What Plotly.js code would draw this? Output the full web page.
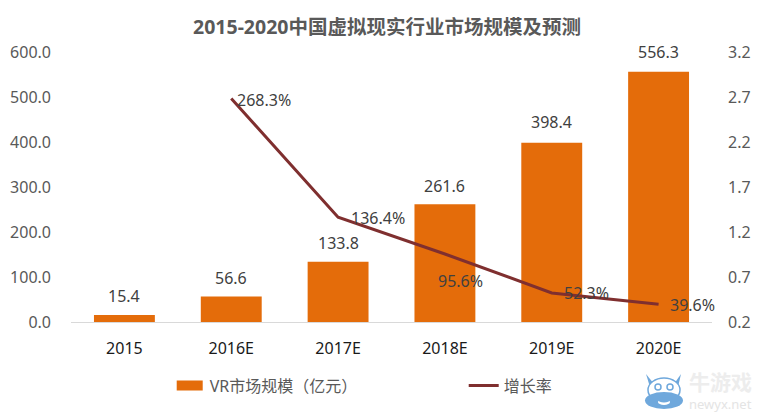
<!DOCTYPE html>
<html><head><meta charset="utf-8">
<script src="https://cdn.plot.ly/plotly-3.0.1.min.js"></script>
<style>html,body{margin:0;padding:0;background:#fff}#c{width:768px;height:416px}</style>
</head><body><div id="c"></div>
<script>
const categories = ['2015','2016E','2017E','2018E','2019E','2020E'];
const marketSize = [15.4,56.6,133.8,261.6,398.4,556.3];
const growthCats = ['2016E','2017E','2018E','2019E','2020E'];
const growthRate = [2.683,1.364,0.956,0.523,0.396];
const growthLabels = ['268.3%','136.4%','95.6%','52.3%','39.6%'];
const leftTicks = [0,100,200,300,400,500,600];
const rightTicks = [0.2,0.7,1.2,1.7,2.2,2.7,3.2];
const labelDx = [33,40,16,35,34];
const labelDy = [-1,-1,-27,0,-1];
const barLabelDy = [19,19,19,18,21,20];
const FONT = '"Noto Sans","Noto Sans CJK SC",sans-serif';
const px = x => (x-71)/641, py = y => (322-y)/270;
const traces = [
 {type:'bar',name:'VR市场规模（亿元）',x:categories,y:marketSize,marker:{color:'#E46C0A'}},
 {type:'scatter',mode:'lines',name:'增长率',x:growthCats,y:growthRate,yaxis:'y2',
  line:{color:'#7F2F2F',width:3}}
];
const barNotes = marketSize.map((v,i)=>({text:v.toFixed(1),x:i,y:v,xref:'x',yref:'y',showarrow:false,yshift:barLabelDy[i],
   xanchor:'center',yanchor:'middle',font:{family:FONT,size:16,color:'#404040'}}));
const lineNotes = growthLabels.map((t,i)=>({text:t,x:categories.indexOf(growthCats[i]),y:growthRate[i],xref:'x',yref:'y2',showarrow:false,xshift:labelDx[i],yshift:labelDy[i],
   xanchor:'center',yanchor:'middle',font:{family:FONT,size:16,color:'#404040'}}));
const markNotes = [
   {text:'<b>牛游戏</b>',xref:'paper',yref:'paper',x:px(687),y:py(382),xanchor:'left',yanchor:'middle',showarrow:false,font:{family:FONT,size:21,color:'#EDEDED'}},
   {text:'newyx.net',xref:'paper',yref:'paper',x:px(687),y:py(404),xanchor:'left',yanchor:'middle',showarrow:false,font:{family:FONT,size:13,color:'#E4E4E4'}}
];
const BLUE='#6FA8DC';
const oval=(x0,y0,x1,y1,fill,line)=>({type:'circle',xref:'paper',yref:'paper',x0:px(x0),x1:px(x1),y0:py(y0),y1:py(y1),fillcolor:fill,line:line?{color:line,width:1.5}:{width:0},layer:'above'});
const poly=(pts)=>({type:'path',xref:'paper',yref:'paper',path:'M'+pts.map(p=>px(p[0])+','+py(p[1])).join('L')+'Z',fillcolor:BLUE,line:{width:0},layer:'above'});
const logo=[
  poly([[646,374],[654,384],[650,387]]),
  poly([[681,374],[674,384],[678,387]]),
  oval(648,378,680,402,'#fff',BLUE),
  oval(645,392,683,409,BLUE),
  oval(655,384,661,390,'#fff',BLUE),
  oval(667,384,673,390,'#fff',BLUE),
  oval(658,399,670,405,'#fff'),
  oval(658,397,670,402.5,BLUE)
];
const layout = {
 width:768,height:416,margin:{l:71,r:56,t:52,b:94,pad:0,autoexpand:false},
 paper_bgcolor:'#fff',plot_bgcolor:'#fff',showlegend:true,bargap:0.43,
 font:{family:FONT,size:16,color:'#595959'},
 title:{text:'<b>2015-2020中国虚拟现实行业市场规模及预测</b>',x:0.493,xanchor:'center',xref:'paper',y:0.935,yanchor:'middle',
   font:{family:FONT,size:19.5,color:'#595959'}},
 xaxis:{type:'category',categoryorder:'array',categoryarray:categories,range:[-0.5,5.5],showgrid:false,showline:true,linecolor:'#D9D9D9',linewidth:1,ticks:'',
   tickfont:{family:FONT,size:16,color:'#1A1A1A'},ticklabelstandoff:12},
 yaxis:{range:[0,600],tickmode:'array',tickvals:leftTicks,ticktext:leftTicks.map(v=>v.toFixed(1)),showgrid:false,zeroline:false,ticks:'',showline:false,
   tickfont:{family:FONT,size:16,color:'#595959'},ticklabelstandoff:19},
 yaxis2:{range:[0.2,3.2],overlaying:'y',side:'right',tickmode:'array',tickvals:rightTicks,ticktext:rightTicks.map(v=>v.toFixed(1)),showgrid:false,zeroline:false,ticks:'',showline:false,
   tickfont:{family:FONT,size:16,color:'#595959'},ticklabelstandoff:15},
 legend:{orientation:'h',x:0.154,xanchor:'left',y:-0.173,yanchor:'top',bgcolor:'rgba(0,0,0,0)',font:{family:FONT,size:16,color:'#595959'},entrywidth:249,entrywidthmode:'pixels',itemwidth:30},
 shapes:logo,
 annotations:barNotes.concat(lineNotes,markNotes)
};
Plotly.newPlot('c',traces,layout,{displayModeBar:false,staticPlot:true}).then(()=>{
  const sw=document.querySelector('.legend .legendbar path, .legend .legendpoints path');
  if(sw) sw.setAttribute('d','M13,5H-13V-5H13Z');
});
</script></body></html>
